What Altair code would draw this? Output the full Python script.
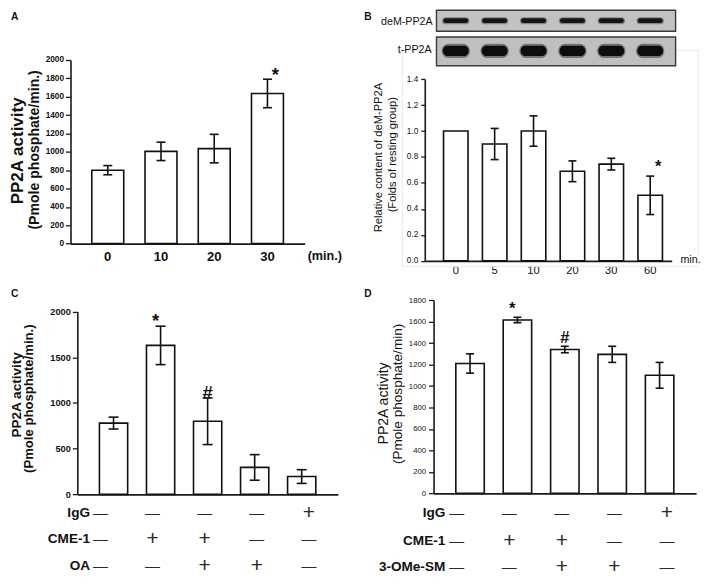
import altair as alt
import pandas as pd

# ---------------- data ----------------
a_time = ["0", "10", "20", "30"]
a_mean = [800, 1005, 1035, 1635]
a_err = [50, 100, 155, 155]
a_mark = ["", "", "", "*"]

b_time = ["0", "5", "10", "20", "30", "60"]
b_mean = [1.0, 0.90, 1.0, 0.69, 0.745, 0.505]
b_err = [0.0, 0.12, 0.117, 0.08, 0.045, 0.148]
b_mark = ["", "", "", "", "", "*"]

c_group = ["c1", "c2", "c3", "c4", "c5"]
c_mean = [780, 1630, 800, 295, 195]
c_err = [65, 210, 255, 140, 75]
c_mark = ["", "*", "#", "", ""]
c_igg = ["—", "—", "—", "—", "+"]
c_cme = ["—", "+", "+", "—", "—"]
c_oa = ["—", "—", "+", "+", "—"]

d_group = ["d1", "d2", "d3", "d4", "d5"]
d_mean = [1210, 1615, 1340, 1295, 1100]
d_err = [90, 25, 30, 75, 120]
d_mark = ["", "*", "#", "", ""]
d_igg = ["—", "—", "—", "—", "+"]
d_cme = ["—", "+", "+", "—", "—"]
d_ome = ["—", "—", "+", "+", "—"]

# ---------------- layout helpers ----------------
FONT = "Liberation Sans"
TW, TH = 692, 567


def X(r):
    return round((r - 2) * TW / 706, 2)


def Y(r):
    return round(r * TH / 590, 2)


def fs(s):
    return round(s * 0.975, 2)


one = pd.DataFrame({"k": [0]})


def label(text, x, y, size, weight="normal", angle=0, align="center",
          baseline="middle", font=FONT, color="#111"):
    return alt.Chart(one).mark_text(
        text=text, font=font, fontSize=fs(size), fontWeight=weight, angle=angle,
        align=align, baseline=baseline, color=color
    ).encode(x=alt.value(X(x)), y=alt.value(Y(y)))


def frame(x0, x1, y0, y1, fill, stroke, sw):
    return alt.Chart(one).mark_rect(fill=fill, stroke=stroke, strokeWidth=sw).encode(
        x=alt.value(X(x0)), x2=alt.value(X(x1)), y=alt.value(Y(y0)), y2=alt.value(Y(y1)))


def panel(cats, mean, err, marks, xr, pin, pout, align, yr, domain, ticks, yfmt,
          ylab_size, ylab_weight, ytick, ylab_pad, xlab, cap, star_size, star_dy,
          rows=None, row_y=None, blots=None):
    df = pd.DataFrame({
        "cat": cats, "mean": mean,
        "lo": [m - e for m, e in zip(mean, err)],
        "hi": [m + e for m, e in zip(mean, err)],
        "err": err, "mark": marks,
    })
    if rows:
        for i, r in enumerate(rows):
            df["row%d" % i] = r

    def xs():
        return alt.Scale(domain=cats, range=[X(xr[0]), X(xr[1])], paddingInner=pin,
                         paddingOuter=pout, align=align)

    def ys():
        return alt.Scale(domain=domain, range=[Y(yr[0]), Y(yr[1])], nice=False, zero=False)

    if xlab:
        xaxis = alt.Axis(orient="bottom", offset=Y(yr[0]) - TH, ticks=False,
                         labelPadding=Y(xlab["y"]) - Y(yr[0]), labelBaseline="middle",
                         labelFont=FONT, labelFontSize=fs(xlab["size"]),
                         labelFontWeight=xlab["weight"], labelColor="#111", labelAngle=0,
                         domainColor="#1a1a1a", domainWidth=1.6, title=None, grid=False)
    else:
        xaxis = alt.Axis(orient="bottom", offset=Y(yr[0]) - TH, ticks=False, labels=False,
                         domainColor="#1a1a1a", domainWidth=1.6, title=None, grid=False)
    yaxis = alt.Axis(orient="left", offset=-X(xr[0]), values=ticks, format=yfmt,
                     tickSize=ytick, tickColor="#1a1a1a", tickWidth=1.3,
                     labelPadding=ylab_pad, labelFont=FONT, labelFontSize=fs(ylab_size),
                     labelFontWeight=ylab_weight, labelColor="#111",
                     domainColor="#1a1a1a", domainWidth=1.6, title=None, grid=False)
    base = alt.Chart(df)

    def xe():
        return alt.X("cat:N", sort=cats, scale=xs(), axis=None)

    bars = base.mark_bar(fill="white", stroke="#111", strokeWidth=1.6).encode(
        x=alt.X("cat:N", sort=cats, scale=xs(), axis=xaxis),
        y=alt.Y("mean:Q", scale=ys(), axis=yaxis),
        y2=alt.datum(0),
    )
    eb = base.transform_filter("datum.err > 0")
    rule = eb.mark_rule(color="#111", strokeWidth=1.6).encode(
        x=xe(), y=alt.Y("lo:Q", scale=ys(), axis=None), y2="hi:Q")
    cap_lo = eb.mark_tick(color="#111", size=cap, thickness=1.6, opacity=1).encode(
        x=xe(), y=alt.Y("lo:Q", scale=ys(), axis=None))
    cap_hi = eb.mark_tick(color="#111", size=cap, thickness=1.6, opacity=1).encode(
        x=xe(), y=alt.Y("hi:Q", scale=ys(), axis=None))
    sig = base.mark_text(font=FONT, fontSize=fs(star_size), fontWeight="bold",
                         baseline="alphabetic", dy=star_dy, color="#111").encode(
        x=xe(), y=alt.Y("hi:Q", scale=ys(), axis=None), text="mark:N")
    layers = [bars, rule, cap_lo, cap_hi, sig]
    if rows:
        for i in range(len(rows)):
            col = "row%d" % i
            layers.append(
                base.transform_calculate(
                    fsz="datum['%s'] == '+' ? 21 : 15" % col
                ).mark_text(font=FONT, dx=-3, color="#2a2a2a", baseline="middle").encode(
                    x=xe(), y=alt.value(Y(row_y[i])), text="%s:N" % col,
                    size=alt.Size("fsz:Q", scale=None, legend=None)))
    if blots:
        for (yc, h, col, op, wband) in blots:
            layers.append(base.mark_bar(color=col, opacity=op, cornerRadius=h / 2.2,
                                        width=alt.RelativeBandSize(wband)).encode(
                x=xe(), y=alt.value(Y(yc - h / 2)), y2=alt.value(Y(yc + h / 2))))
    return layers


# ---------------- panel A ----------------
pA = panel(a_time, a_mean, a_err, a_mark, xr=(64, 304), pin=0.4, pout=0.4, align=0.5,
           yr=(245, 53), domain=[0, 2000], ticks=list(range(0, 2001, 200)), yfmt="d",
           ylab_size=8.5, ylab_weight="bold", ytick=5, ylab_pad=2,
           xlab={"y": 258, "size": 13.5, "weight": "bold"}, cap=9, star_size=19, star_dy=2)

# ---------------- panel B ----------------
pB = panel(b_time, b_mean, b_err, b_mark, xr=(427, 680), pin=0.37, pout=0.36, align=0.67,
           yr=(263, 73), domain=[0, 1.4], ticks=[0, 0.2, 0.4, 0.6, 0.8, 1.0, 1.2, 1.4],
           yfmt=".1f", ylab_size=8.5, ylab_weight="normal", ytick=4, ylab_pad=3,
           xlab={"y": 273, "size": 11.5, "weight": "normal"}, cap=8, star_size=17,
           star_dy=-4,
           blots=[(12, 7.5, "#3a3a3a", 0.45, 1.12), (12, 5, "#151515", 1, 1.02),
                  (43.5, 15, "#2a2a2a", 0.5, 1.15), (43.5, 10.5, "#0d0d0d", 1, 1.05)])

# ---------------- panel C ----------------
pC = panel(c_group, c_mean, c_err, c_mark, xr=(71, 338), pin=0.4, pout=0.47, align=0.5,
           yr=(507, 316), domain=[0, 2000], ticks=[0, 500, 1000, 1500, 2000], yfmt="d",
           ylab_size=9.5, ylab_weight="bold", ytick=5, ylab_pad=2, xlab=None, cap=10,
           star_size=19, star_dy=1, rows=[c_igg, c_cme, c_oa], row_y=[527, 554, 582])

# ---------------- panel D ----------------
pD = panel(d_group, d_mean, d_err, d_mark, xr=(436, 705), pin=0.4, pout=0.47, align=0.5,
           yr=(506, 304), domain=[0, 1800], ticks=list(range(0, 1801, 200)), yfmt="d",
           ylab_size=8, ylab_weight="normal", ytick=5, ylab_pad=3, xlab=None, cap=8,
           star_size=17, star_dy=-3, rows=[d_igg, d_cme, d_ome], row_y=[527, 556, 583])

texts = [
    label("A", 3, 8, 10.5, "bold", align="left"),
    label("B", 365, 8, 10.5, "bold", align="left"),
    label("C", 3, 298, 10.5, "bold", align="left"),
    label("D", 365, 298, 10.5, "bold", align="left"),
    label("PP2A activity", 10, 148, 17.5, "bold", angle=270),
    label("(Pmole phosphate/min.)", 28, 147, 14.5, "bold", angle=270),
    label("(min.)", 307, 258, 13, "bold", align="left"),
    label("Relative content of deM-PP2A", 380, 155, 11.5, angle=270),
    label("(Folds of resting group)", 394, 152, 11.5, angle=270),
    label("min.", 689, 262, 11, align="left"),
    label("deM-PP2A", 435, 13, 11, align="right"),
    label("t-PP2A", 434, 43, 11, align="right"),
    label("PP2A activity", 9, 403, 14, "bold", angle=270),
    label("(Pmole phosphate/min.)", 22, 407, 13.5, "bold", angle=270),
    label("IgG", 84, 527, 14, "bold", align="right"),
    label("CME-1", 84, 554, 14, "bold", align="right"),
    label("OA", 84, 582, 14, "bold", align="right"),
    label("PP2A activity", 385, 412, 14.5, angle=270),
    label("(Pmole phosphate/min)", 400, 402, 14, angle=270),
    label("IgG", 448, 527, 14, "bold", align="right"),
    label("CME-1", 448, 556, 14, "bold", align="right"),
    label("3-OMe-SM", 448, 583, 14, "bold", align="right"),
]

frames = [
    frame(404, 707, 43, 269, "transparent", "#e9e9e9", 1),
    frame(439, 684, 1, 23, "#c2c2c2", "#3a3a3a", 1.4),
    frame(439, 684, 29, 59, "#bfbfbf", "#3a3a3a", 1.4),
]

chart = alt.layer(*frames, *pA, *pB, *pC, *pD, *texts).resolve_scale(
    x="independent", y="independent"
).properties(width=TW, height=TH, padding=0).configure_view(stroke=None)

chart.save("out.html", embed_options={"renderer": "svg", "actions": False})
